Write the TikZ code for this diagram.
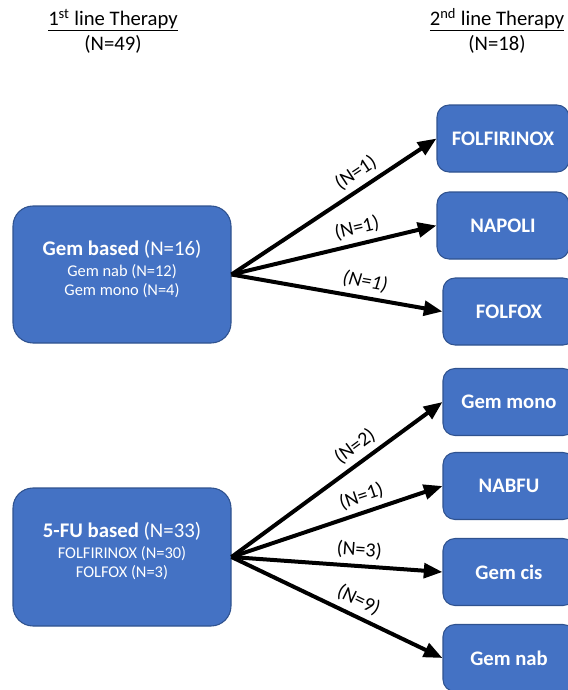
\documentclass[tikz,border=0pt]{standalone}
\usepackage{fontspec}
\setmainfont{Carlito}
\usetikzlibrary{arrows.meta}
\definecolor{boxblue}{HTML}{4472C4}
\definecolor{boxedge}{HTML}{2F528F}
\begin{document}
\begin{tikzpicture}[x=0.75pt,y=-0.75pt,
  firstbox/.style={draw=boxedge,line width=0.8pt,fill=boxblue,rounded corners=15pt,
    minimum width=218*0.75pt,minimum height=137*0.75pt,inner sep=0pt},
  firsttext/.style={text=white,align=center,inner sep=0pt},
  secondbox/.style={draw=boxedge,line width=0.8pt,fill=boxblue,rounded corners=9pt,
    minimum width=132*0.75pt,minimum height=67*0.75pt,text=white,
    font=\fontsize{15.5pt}{18pt}\selectfont\bfseries,inner sep=0pt},
  flow/.style={line width=3pt,-{Triangle[length=14pt,width=11pt]},shorten >=0pt},
  cnt/.style={font=\fontsize{15pt}{18pt}\selectfont,sloped,above,inner sep=4pt},
  head/.style={font=\fontsize{15.5pt}{18pt}\selectfont,inner sep=0pt}]
\useasboundingbox (0,0) rectangle (568,690);
\clip (0,0) rectangle (568,690);
\node[head] (h1) at (113,20) {\underline{1\textsuperscript{st} line Therapy}};
\node[head] (n1) at (113,44) {(N=49)};
\node[head] (h2) at (497,20) {\underline{2\textsuperscript{nd} line Therapy}};
\node[head] (n2) at (497,44) {(N=18)};
\node[firstbox] (gem) at (122,274.5) {};
\node[firsttext] (gemtext) at (122,269) {{\fontsize{15.6pt}{17pt}\selectfont\textbf{Gem based} (N=16)}\\[4pt]
  {\fontsize{12.3pt}{14.5pt}\selectfont Gem nab (N=12)}\\[2pt]{\fontsize{12.3pt}{14.5pt}\selectfont Gem mono (N=4)}};
\node[firstbox,minimum height=138*0.75pt] (fu) at (122,557) {};
\node[firsttext] (futext) at (122,551) {{\fontsize{15.6pt}{17pt}\selectfont\textbf{5-FU based} (N=33)}\\[4pt]
  {\fontsize{12.3pt}{14.5pt}\selectfont FOLFIRINOX (N=30)}\\[2pt]{\fontsize{12.3pt}{14.5pt}\selectfont FOLFOX (N=3)}};
\node[secondbox] (a1) at (503,138.5) {FOLFIRINOX};
\node[secondbox] (a2) at (503,225.5) {NAPOLI};
\node[secondbox] (a3) at (509,311.5) {FOLFOX};
\node[secondbox] (b1) at (509,402) {Gem mono};
\node[secondbox] (b2) at (509,486) {NABFU};
\node[secondbox] (b3) at (509,572) {Gem cis};
\node[secondbox] (b4) at (509,658) {Gem nab};
\draw[flow] (gem.east) -- node[cnt,pos=0.65] {(N=1)} (a1.west);
\draw[flow] (gem.east) -- node[cnt,pos=0.63] {(N=1)} (a2.west);
\draw[flow] (gem.east) -- node[cnt,pos=0.62] {\itshape(N=1)} (a3.west);
\draw[flow] (fu.east) -- node[cnt,pos=0.63] {(N=2)} (b1.west);
\draw[flow] (fu.east) -- node[cnt,pos=0.64] {(N=1)} (b2.west);
\draw[flow] (fu.east) -- node[cnt,pos=0.6] {(N=3)} (b3.west);
\draw[flow] (fu.east) -- node[cnt,pos=0.57] {(N=9)} (b4.west);
\end{tikzpicture}
\end{document}
